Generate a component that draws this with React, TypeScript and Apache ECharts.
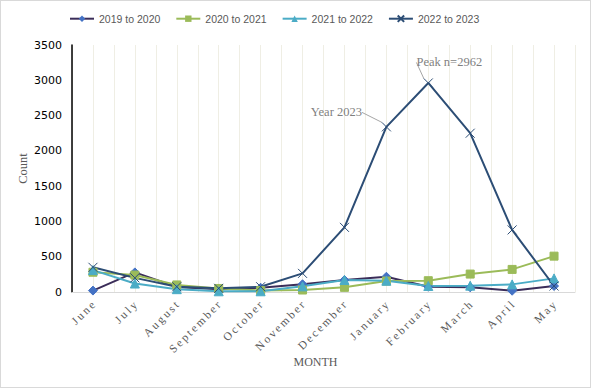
import React, { useEffect, useRef } from "react";
import * as echarts from "echarts";

const months = ["June", "July", "August", "September", "October", "November", "December", "January", "February", "March", "April", "May"];
const s1920 = [20, 278, 70, 40, 60, 110, 170, 216, 75, 66, 18, 85];
const s2021 = [280, 240, 100, 50, 20, 28, 66, 155, 160, 254, 320, 508];
const s2122 = [310, 120, 40, 10, 10, 80, 170, 160, 85, 90, 108, 193];
const s2223 = [350, 200, 75, 52, 75, 264, 916, 2340, 2962, 2250, 880, 85];
const yTicks = [0, 3500, 500];

const serif = "'Liberation Serif', serif";
const sans = "'Liberation Sans', Arial, sans-serif";
const ysans = "'DejaVu Sans', Verdana, sans-serif";

export default function App() {
  const ref = useRef<HTMLDivElement>(null);
  useEffect(() => {
    document.body.style.margin = "0";
    const chart = echarts.init(ref.current!, null, { renderer: "svg" });
    const mk = (name: string, data: any[], line: string, marker: string, symbol: string, size: number, extra: any = {}) => ({
      name,
      type: "line",
      data,
      symbol,
      symbolSize: size,
      lineStyle: { color: line, width: 2 },
      itemStyle: { color: marker, borderColor: marker },
      z: 3,
      ...extra,
    });
    const navyData = s2223.map((v, i) => {
      if (i === 8) return { value: v, label: { show: true, formatter: "Peak n=2962" }, labelLine: { show: true } };
      if (i === 7) return { value: v, label: { show: true, formatter: "Year 2023" }, labelLine: { show: true } };
      return v;
    });
    chart.setOption({
      animation: false,
      backgroundColor: "#fff",
      legend: {
        top: 7,
        left: 63,
        itemWidth: 24,
        itemHeight: 8,
        itemGap: 15,
        textStyle: { color: "#595959", fontFamily: sans, fontSize: 10.5 },
      },
      grid: { left: 71, right: 15, top: 44, bottom: 95 },
      xAxis: [
        {
          type: "category",
          data: months,
          boundaryGap: true,
          axisLine: { lineStyle: { color: "#d9d9d9" } },
          axisTick: { show: false },
          splitLine: { show: false },
          axisLabel: {
            rotate: 45,
            interval: 0,
            color: "#595959",
            fontFamily: serif,
            fontSize: 11.5,
            margin: 11,
            formatter: (v: string) => v.split("").join("\u2009"),
          },
          name: "MONTH",
          nameLocation: "middle",
          nameGap: 64,
          nameMoveOverlap: false,
          nameTextStyle: { color: "#595959", fontFamily: serif, fontSize: 12, padding: [0, 16, 0, 0] },
        },
        {
          type: "value",
          min: 0,
          max: 24,
          interval: 1,
          position: "bottom",
          show: true,
          axisLine: { show: false },
          axisTick: { show: false },
          axisLabel: { show: false },
          splitLine: { show: true, lineStyle: { color: "#efeee4", width: 1 } },
        },
      ],
      yAxis: {
        type: "value",
        min: yTicks[0],
        max: yTicks[1],
        interval: yTicks[2],
        axisLine: { show: true, lineStyle: { color: "#000", width: 1.5 } },
        axisTick: { show: false },
        splitLine: { show: false },
        axisLabel: { color: "#000", fontFamily: ysans, fontSize: 11, margin: 10, formatter: (v: number) => String(v) },
        name: "Count",
        nameLocation: "middle",
        nameGap: 43,
        nameMoveOverlap: false,
        nameTextStyle: { color: "#595959", fontFamily: serif, fontSize: 12.5 },
      },
      series: [
        mk("2019 to 2020", s1920, "#3b2d59", "#4472c4", "diamond", 9),
        mk("2020 to 2021", s2021, "#9bbb59", "#9bbb59", "rect", 8),
        mk("2021 to 2022", s2122, "#4bacc6", "#4bacc6", "triangle", 9),
        mk("2022 to 2023", navyData, "#2c4d75", "#2c4d75", "path://M0,0L10,10M10,0L0,10", 9, {
          itemStyle: { color: "none", borderColor: "#2c4d75", borderWidth: 1 },
          label: { color: "#7f7f7f", fontFamily: serif, fontSize: 12.5 },
          labelLine: { lineStyle: { color: "#a6a6a6", width: 1 } },
          labelLayout: (p: any) => {
            if (p.dataIndex === 8) return { dx: 21, dy: -2 };
            if (p.dataIndex === 7) return { dx: -50, dy: 4 };
            return {};
          },
        }),
      ],
    });
    return () => chart.dispose();
  }, []);
  return (
    <div style={{ position: "absolute", left: 0, top: 0, width: 591, height: 388, boxSizing: "border-box", border: "1px solid #d9d9d9" }}>
      <div ref={ref} style={{ width: 589, height: 386 }} />
    </div>
  );
}
